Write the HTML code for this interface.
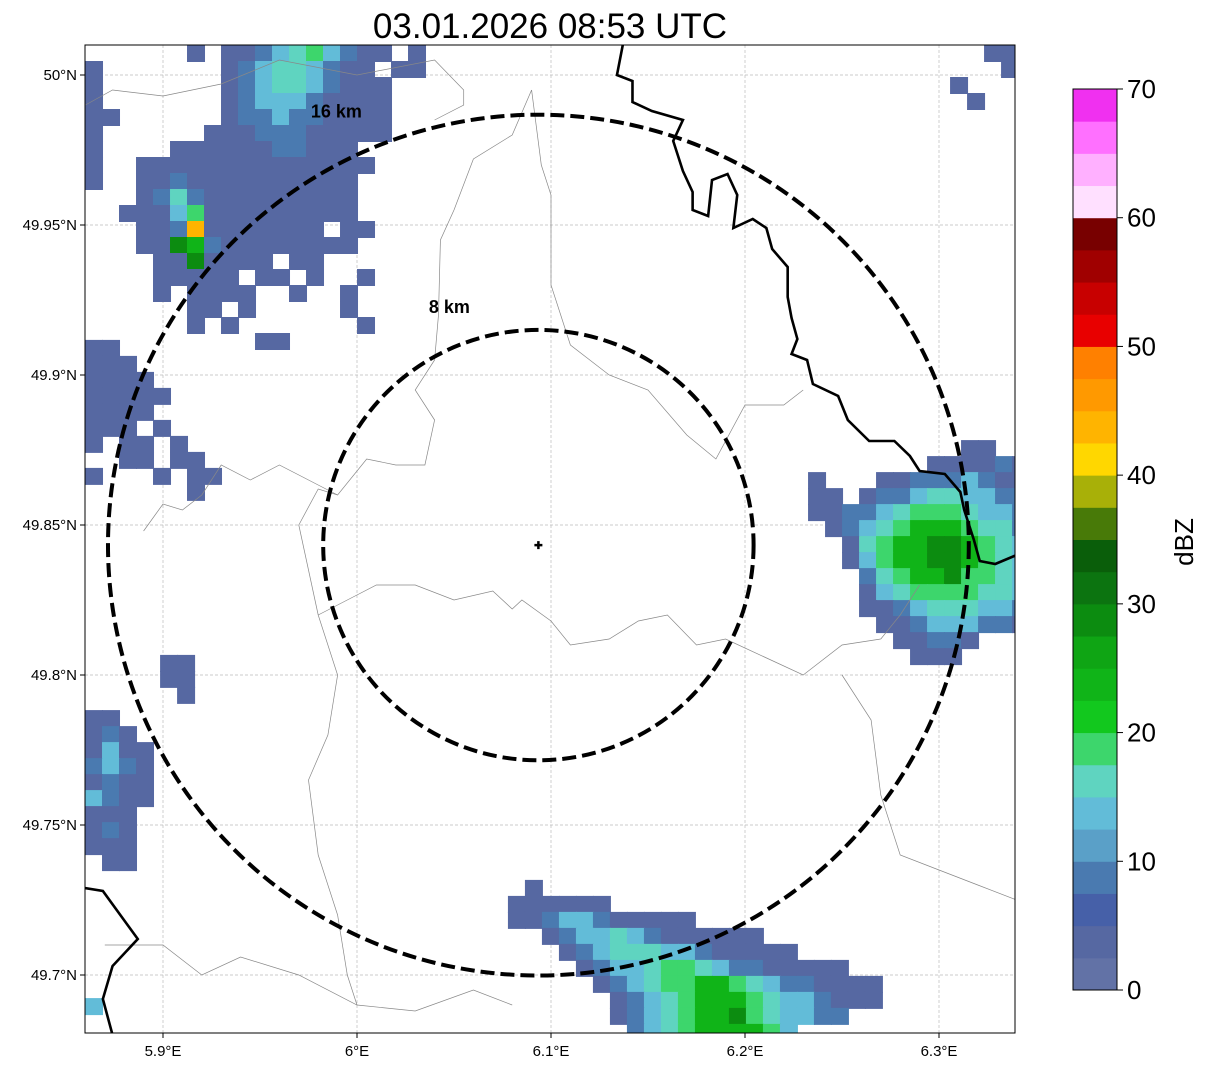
<!DOCTYPE html>
<html><head><meta charset="utf-8"><style>
body{margin:0;background:#fff;width:1207px;height:1069px;overflow:hidden;font-family:"Liberation Sans",sans-serif}
</style></head><body>
<svg id="s" width="1207" height="1069" xmlns="http://www.w3.org/2000/svg">
<text x="550" y="38" font-size="35" text-anchor="middle" font-family="Liberation Sans">03.01.2026 08:53 UTC</text>
<defs><clipPath id="mc"><rect x="85" y="45" width="930" height="988"/></clipPath></defs>
<g id="map" clip-path="url(#mc)"></g>
<rect x="85" y="45" width="930" height="988" fill="none" stroke="#000" stroke-width="1"/>
<g id="ax"></g>
<g id="cb"></g>
<text transform="translate(1193,542) rotate(-90)" font-size="26" text-anchor="middle">dBZ</text>
</svg>
<script>
const lonTicks=[5.9,6.0,6.1,6.2,6.3];
const lonLabels=["5.9°E","6°E","6.1°E","6.2°E","6.3°E"];
const latTicks=[50,49.95,49.9,49.85,49.8,49.75,49.7];
const latLabels=["50°N","49.95°N","49.9°N","49.85°N","49.8°N","49.75°N","49.7°N"];
const cbColors=["#6272a6","#5668a2","#4660a8","#4a7ab0","#5aa0c8","#62bcd8","#5fd4c0","#3dd66c","#12c81e","#10b418","#0fa514","#0c8c10","#0c7410","#0a5e0a","#487a08","#a8b008","#ffd700","#ffb400","#ff9900","#ff8000","#e80000","#c80000","#a00000","#780000","#ffe0ff","#ffb0ff","#ff70ff","#f030f0"];
const cbTicks=[0,10,20,30,40,50,60,70];
const levelDbz=[0,3,8,13,16,19,23,28,43];
const ringsKm=[8,16];
const siteLon=6.0935, siteLat=49.8433;
const clusters=[
 {lon:5.8598,lat:50.01,rows:[
 "......1.1123453211.1","1.......123443211.11","1.......1234432111..","1.......1233321111..","11......1223221111..","1......11122211111..","1....11111122111....","1..11111111111111...","1..1121111111111....","...1242111111111....","..11135111111111....","...11281111111.11...","...1176211111111....","....1171111.11......","....11111.11.1..1...","....1.1111..1..1....","......11.1.....1....","......1.1.......1...","..........11........"]},
 {lon:5.8598,lat:49.9117,rows:["11......","111.....","1111....","11111...","1111....","111.1...","1.11.1..","..11.11.","1...1.11","......1."]},
 {lon:5.8598,lat:49.7883,rows:["11..","121.","1311","2321","1211","3211","111.","121.","111.",".11.","....","....","....","....","....","....","....","....","3..."]},
 {lon:5.8985,lat:49.8067,rows:["11","11",".1"]},
 {lon:6.2325,lat:49.8783,rows:[".........11..",".......111121.","1...1122232111","11.122344332211","1122345554332",".123456665442","..14566776543","..1356677654332","...245667554333","...1345555443","...11234443321","....112333221",".....11221.","......111."]},
 {lon:6.0778,lat:49.7317,rows:[".1......","111111........","11233211111.......","..1233432111111","...12344433211111","....1233455432211111",".....12345566543221111","......1234566654332111","......12345667543322.",".......2345666653"]},
 {lon:6.3057,lat:50.01,rows:["..11","...1","1...",".1.."]}
];
const riverA=[[6.137,50.01],[6.134,50],[6.142,49.998],[6.142,49.991],[6.152,49.988],[6.168,49.985],[6.163,49.978],[6.168,49.968],[6.173,49.961],[6.173,49.955],[6.181,49.953],[6.183,49.965],[6.191,49.967],[6.196,49.96],[6.194,49.949],[6.204,49.952],[6.211,49.949],[6.214,49.942],[6.222,49.936],[6.222,49.926],[6.224,49.919],[6.227,49.912],[6.224,49.907],[6.232,49.905],[6.235,49.897],[6.248,49.893],[6.253,49.885],[6.264,49.878],[6.277,49.878],[6.285,49.873],[6.29,49.868],[6.303,49.867],[6.311,49.861],[6.313,49.855],[6.318,49.845],[6.321,49.838],[6.329,49.837],[6.34,49.84]];
const riverB=[[5.85,49.73],[5.869,49.728],[5.887,49.712],[5.874,49.703],[5.869,49.692],[5.874,49.68]];
const borders=[
 [[5.86,49.99],[5.874,49.995],[5.9,49.993],[5.93,49.997],[5.96,50.005],[6.0,50.0],[6.04,50.005],[6.055,49.995],[6.055,49.99],[6.04,49.985]],
 [[6.09,49.995],[6.08,49.98],[6.06,49.972],[6.05,49.955],[6.043,49.945],[6.042,49.92],[6.04,49.905],[6.03,49.895],[6.04,49.885],[6.035,49.87],[6.02,49.87],[6.005,49.872],[5.99,49.86],[5.98,49.862],[5.97,49.85],[5.975,49.835],[5.98,49.82]],
 [[5.98,49.82],[5.995,49.825],[6.01,49.83],[6.03,49.83],[6.05,49.825],[6.07,49.828],[6.08,49.822],[6.085,49.825],[6.1,49.818],[6.11,49.81],[6.13,49.812],[6.145,49.818],[6.16,49.82],[6.175,49.81],[6.19,49.812],[6.21,49.806],[6.23,49.8],[6.25,49.81],[6.27,49.812]],
 [[6.09,49.995],[6.095,49.97],[6.1,49.96],[6.1,49.93],[6.11,49.91],[6.13,49.9],[6.15,49.895],[6.17,49.88],[6.185,49.872],[6.2,49.89],[6.22,49.89],[6.23,49.895]],
 [[5.99,49.86],[5.96,49.87],[5.945,49.865],[5.93,49.87],[5.92,49.86],[5.91,49.855],[5.9,49.857],[5.89,49.848]],
 [[5.98,49.82],[5.99,49.8],[5.985,49.78],[5.975,49.765],[5.98,49.74],[5.99,49.72],[5.995,49.7],[6.0,49.69]],
 [[5.87,49.71],[5.9,49.71],[5.92,49.7],[5.94,49.706],[5.97,49.7],[6.0,49.69],[6.03,49.688],[6.06,49.695],[6.08,49.69]],
 [[6.25,49.8],[6.265,49.785],[6.27,49.76],[6.28,49.74],[6.3,49.735],[6.32,49.73],[6.34,49.725]],
 [[6.27,49.812],[6.28,49.82],[6.29,49.83]]
];
const SV="http://www.w3.org/2000/svg";
const X=lon=>163+(lon-5.9)*1940, Y=lat=>75+(50-lat)*3000;
function el(t,a,p){const e=document.createElementNS(SV,t);for(const k in a)e.setAttribute(k,a[k]);p.appendChild(e);return e;}
function col(d){const i=Math.min(27,Math.max(0,Math.floor(d/2.5)));return cbColors[i];}
const map=document.getElementById('map'),ax=document.getElementById('ax'),cb=document.getElementById('cb');
lonTicks.forEach(v=>{const l=el('line',{x1:X(v),x2:X(v),y1:45,y2:1033,stroke:'#bbb','stroke-width':0.7,'stroke-dasharray':'3,2'},map);

});
latTicks.forEach(v=>{const l=el('line',{x1:85,x2:1015,y1:Y(v),y2:Y(v),stroke:'#bbb','stroke-width':0.7,'stroke-dasharray':'3,2'},map);

});
const cw=17,ch=16;
clusters.forEach((c,ci)=>{const g=el('g',{},map);


const x0=X(c.lon),y0=Y(c.lat);
c.rows.forEach((r,ri)=>{for(let k=0;k<r.length;k++){const ch2=r[k];if(ch2==='.')continue;
const d=levelDbz[+ch2];
const rc=el('rect',{x:x0+k*cw,y:y0+ri*ch,width:cw+1,height:ch+1,fill:col(d)},g);

}});});
borders.forEach(b=>{const p=el('polyline',{points:b.map(q=>X(q[0])+','+Y(q[1])).join(' '),fill:'none',stroke:'#888','stroke-width':0.7},map);

});
[riverA,riverB].forEach(b=>{const p=el('polyline',{points:b.map(q=>X(q[0])+','+Y(q[1])).join(' '),fill:'none',stroke:'#000','stroke-width':2.6},map);

});
const cx=X(siteLon),cy=Y(siteLat);
ringsKm.forEach(km=>{const r=km*26.9;
const c=el('circle',{cx:cx,cy:cy,r:r,fill:'none',stroke:'#000','stroke-width':4,'stroke-dasharray':'14,6'},map);


const t=el('text',{x:cx-(km===8?89:202),y:cy-r+(km===8?-17:3),'font-size':18,'font-weight':'bold','text-anchor':'middle'},map);
t.textContent=km+' km';

});
const cr=el('path',{d:`M${cx-4} ${cy}H${cx+4}M${cx} ${cy-4}V${cy+4}`,stroke:'#000','stroke-width':2.5},map);


lonTicks.forEach((v,i)=>{el('line',{x1:X(v),x2:X(v),y1:1033,y2:1038,stroke:'#000'},ax);
const t=el('text',{x:X(v),y:1056,'font-size':15,'text-anchor':'middle'},ax);t.textContent=lonLabels[i];

});
latTicks.forEach((v,i)=>{el('line',{x1:80,x2:85,y1:Y(v),y2:Y(v),stroke:'#000'},ax);
const t=el('text',{x:77,y:Y(v)+5,'font-size':15,'text-anchor':'end'},ax);t.textContent=latLabels[i];

});
const cbTop=89,cbBot=990,cbH=(cbBot-cbTop)/cbColors.length;
cbColors.forEach((c,i)=>{const r=el('rect',{x:1073,y:cbBot-(i+1)*cbH,width:44,height:cbH+0.5,fill:c},cb);

});
el('rect',{x:1073,y:cbTop,width:44,height:cbBot-cbTop,fill:'none',stroke:'#000'},cb);
cbTicks.forEach(v=>{const y=cbBot-(v/70)*(cbBot-cbTop);el('line',{x1:1117,x2:1123,y1:y,y2:y,stroke:'#000'},cb);
const t=el('text',{x:1127,y:y+9,'font-size':26},cb);t.textContent=v;

});
</script>
</body></html>
